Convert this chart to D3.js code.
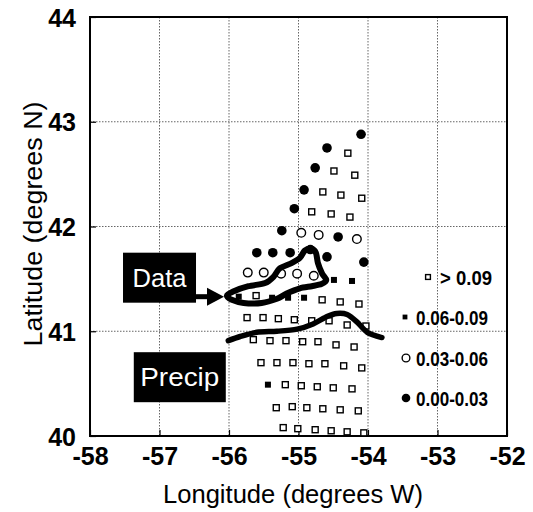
<!DOCTYPE html>
<html>
<head>
<meta charset="utf-8">
<script src="https://cdn.jsdelivr.net/npm/d3@7"></script>
<style>
  body { margin: 0; background: #fff; }
  text { font-family: "Liberation Sans", Arial, Helvetica, sans-serif; }
</style>
</head>
<body>
<div id="chart"></div>
<script>
// station values
var lons = [-54.10, -54.59, -54.29, -54.76, -54.49, -54.19, -54.92, -54.65, -54.39, -54.09,
  -55.06, -54.81, -54.53, -54.26,
  -55.24, -54.96, -54.71, -54.43, -54.16,
  -55.60, -55.37, -55.12, -54.83, -54.59, -54.06,
  -55.73, -55.50, -55.25, -55.02, -54.78, -54.49, -54.23,
  -55.86, -55.61, -55.38, -55.15, -54.92, -54.66, -54.40, -54.13,
  -55.74, -55.51, -55.29, -55.06, -54.81, -54.56, -54.30, -54.03,
  -55.65, -55.41, -55.18, -54.94, -54.72, -54.46, -54.20,
  -55.54, -55.31, -55.08, -54.85, -54.62, -54.35, -54.09,
  -55.44, -55.19, -54.96, -54.73, -54.50, -54.23,
  -55.32, -55.09, -54.88, -54.65, -54.40, -54.14,
  -55.22, -55.01, -54.76, -54.53, -54.30, -54.06];
var lats = [42.88, 42.75, 42.70, 42.56, 42.53, 42.49, 42.35, 42.33, 42.30, 42.27,
  42.17, 42.14, 42.12, 42.09,
  41.96, 41.94, 41.92, 41.90, 41.88,
  41.75, 41.75, 41.75, 41.78, 41.71, 41.66,
  41.56, 41.56, 41.55, 41.55, 41.53, 41.49, 41.48,
  41.33, 41.34, 41.32, 41.32, 41.32, 41.30, 41.28, 41.26,
  41.13, 41.13, 41.12, 41.11, 41.10, 41.10, 41.06, 41.05,
  40.92, 40.91, 40.91, 40.90, 40.90, 40.87, 40.85,
  40.70, 40.70, 40.70, 40.69, 40.69, 40.67, 40.65,
  40.49, 40.49, 40.48, 40.47, 40.46, 40.45,
  40.27, 40.28, 40.27, 40.26, 40.25, 40.24,
  40.08, 40.07, 40.06, 40.05, 40.04, 40.03];
// 0: > 0.09, 1: 0.06-0.09, 2: 0.03-0.06, 3: 0.00-0.03
var classes = [3, 3, 0, 3, 0, 0, 3, 0, 0, 0,
  3, 0, 0, 0,
  3, 2, 2, 3, 2,
  3, 3, 3, 3, 3, 3,
  2, 2, 2, 2, 2, 1, 1,
  1, 0, 1, 1, 1, 0, 0, 0,
  0, 0, 0, 0, 0, 0, 0, 0,
  0, 0, 0, 0, 0, 0, 0,
  0, 0, 0, 0, 0, 0, 0,
  1, 0, 0, 0, 0, 0,
  0, 0, 0, 0, 0, 0,
  0, 0, 0, 0, 0, 0];
var legendLabels = ["> 0.09", "0.06-0.09", "0.03-0.06", "0.00-0.03"];

var xTicks = [-58, -57, -56, -55, -54, -53, -52];
var yTicks = [40, 41, 42, 43, 44];

// outlines drawn over the stations
var dataLon = [-56.03, -55.94, -55.72, -55.48, -55.36, -55.27, -55.10, -54.98, -54.91, -54.82, -54.75,
  -54.72, -54.66, -54.60, -54.67, -54.81, -54.98, -55.17, -55.31, -55.53, -55.79, -55.96];
var dataLat = [41.34, 41.38, 41.43, 41.46, 41.52, 41.60, 41.65, 41.70, 41.77, 41.79, 41.75,
  41.65, 41.55, 41.49, 41.45, 41.43, 41.41, 41.36, 41.31, 41.27, 41.27, 41.30];
var precipLon = [-56.01, -55.84, -55.60, -55.31, -55.02, -54.79, -54.59, -54.45, -54.30, -54.16, -54.01, -53.80];
var precipLat = [40.91, 40.95, 40.99, 41.00, 41.02, 41.07, 41.14, 41.17, 41.16, 41.09, 40.99, 40.94];

var svgWidth = 533;
var svgHeight = 512;
var margin = { top: 17, right: 26, bottom: 76, left: 90 };
var width = svgWidth - margin.left - margin.right;
var height = svgHeight - margin.top - margin.bottom;

var svg = d3.select("#chart").append("svg")
  .attr("width", svgWidth)
  .attr("height", svgHeight);

var chartGroup = svg.append("g")
  .attr("transform", `translate(${margin.left}, ${margin.top})`);

var xScale = d3.scaleLinear().domain([-58, -52]).range([0, width]);
var yScale = d3.scaleLinear().domain([40, 44]).range([height, 0]);

// dotted grid
chartGroup.selectAll(".vgrid")
  .data(xTicks.slice(1, -1))
  .enter().append("line")
  .attr("x1", d => xScale(d)).attr("x2", d => xScale(d))
  .attr("y1", 0).attr("y2", height)
  .attr("stroke", "#666").attr("stroke-width", 1).attr("stroke-dasharray", "1.5,1.5");
chartGroup.selectAll(".hgrid")
  .data(yTicks.slice(1, -1))
  .enter().append("line")
  .attr("x1", 0).attr("x2", width)
  .attr("y1", d => yScale(d)).attr("y2", d => yScale(d))
  .attr("stroke", "#666").attr("stroke-width", 1).attr("stroke-dasharray", "1.5,1.5");

// axes (plain hyphen for the minus, as in the figure)
var xAxis = d3.axisBottom(xScale).tickValues(xTicks).tickSizeInner(-6).tickSizeOuter(0).tickPadding(24)
  .tickFormat(d => String(d));
var yAxis = d3.axisLeft(yScale).tickValues(yTicks).tickSizeInner(-6).tickSizeOuter(0).tickPadding(14)
  .tickFormat(d => String(d));

var gx = chartGroup.append("g")
  .attr("transform", `translate(0, ${height})`)
  .call(xAxis);
var gy = chartGroup.append("g").call(yAxis);

[gx, gy].forEach(g => {
  g.select(".domain").remove();
  g.selectAll(".tick line").attr("stroke", "#000").attr("stroke-width", 1.2);
  g.selectAll(".tick text")
    .attr("fill", "#000")
    .style("font-size", "25px")
    .style("font-weight", "bold");
});
gx.selectAll(".tick text").attr("dy", "0.2em");
gy.selectAll(".tick text").attr("dy", "0.36em");

// frame
chartGroup.append("rect")
  .attr("x", 0).attr("y", 0)
  .attr("width", width).attr("height", height)
  .attr("fill", "none").attr("stroke", "#000").attr("stroke-width", 2);

// stations
var points = chartGroup.selectAll(".pt")
  .data(lons.map((d, i) => ({ lon: d, lat: lats[i], c: classes[i] })))
  .enter().append("g")
  .attr("transform", d => `translate(${xScale(d.lon)}, ${yScale(d.lat)})`);

function drawMarker(sel, c, s) {
  if (c === 0) {
    sel.append("rect").attr("x", -3 * s).attr("y", -3 * s).attr("width", 6 * s).attr("height", 6 * s)
      .attr("fill", "#fff").attr("stroke", "#000").attr("stroke-width", 1.4);
  } else if (c === 1) {
    sel.append("rect").attr("x", -3 * s).attr("y", -3 * s).attr("width", 6 * s).attr("height", 6 * s)
      .attr("fill", "#000");
  } else if (c === 2) {
    sel.append("circle").attr("r", 4.3 * s)
      .attr("fill", "#fff").attr("stroke", "#000").attr("stroke-width", 1.4);
  } else {
    sel.append("circle").attr("r", 4.8 * s).attr("fill", "#000");
  }
}

points.each(function(d) { drawMarker(d3.select(this), d.c, 1); });

// outlines
var line = d3.line().x(d => xScale(d[0])).y(d => yScale(d[1]));

chartGroup.append("path")
  .datum(dataLon.map((d, i) => [d, dataLat[i]]))
  .attr("d", line.curve(d3.curveCardinalClosed.tension(0.2)))
  .attr("fill", "none").attr("stroke", "#000").attr("stroke-width", 6)
  .attr("stroke-linejoin", "round");

chartGroup.append("path")
  .datum(precipLon.map((d, i) => [d, precipLat[i]]))
  .attr("d", line.curve(d3.curveCardinal.tension(0.2)))
  .attr("fill", "none").attr("stroke", "#000").attr("stroke-width", 5.5)
  .attr("stroke-linecap", "round");

// label boxes
function labelBox(lon, lat, w, h, label, tl) {
  var g = chartGroup.append("g")
    .attr("transform", `translate(${xScale(lon)}, ${yScale(lat)})`);
  g.append("rect").attr("x", 0).attr("y", 0).attr("width", w).attr("height", h).attr("fill", "#000");
  g.append("text")
    .attr("x", w / 2).attr("y", h / 2 + 9)
    .attr("text-anchor", "middle")
    .attr("fill", "#fff")
    .style("font-size", "25px")
    .attr("textLength", tl).attr("lengthAdjust", "spacingAndGlyphs")
    .text(label);
  return g;
}

var dataBox = labelBox(-57.525, 41.75, 73, 50, "Data", 54);
labelBox(-57.37, 40.80, 92, 50, "Precip", 79);

// arrow from the Data box
dataBox.append("line")
  .attr("x1", 73).attr("x2", 88).attr("y1", 44).attr("y2", 44)
  .attr("stroke", "#000").attr("stroke-width", 5);
dataBox.append("path")
  .attr("d", "M84,35 L101,44 L84,53 Z")
  .attr("fill", "#000");

// legend
var legendX = [428, 405, 406, 406];
var legendY = [277, 317, 358, 398];
var legendTextX = [440, 416, 416, 416];
var legendTL = [52, 72, 72, 72];
var legend = svg.append("g");
legendLabels.forEach((lab, i) => {
  var m = legend.append("g").attr("transform", `translate(${legendX[i]}, ${legendY[i]})`);
  drawMarker(m, i, i < 2 ? 0.8 : 0.9);
  legend.append("text")
    .attr("x", legendTextX[i]).attr("y", legendY[i] + 7.5)
    .style("font-size", "21px").style("font-weight", "bold")
    .attr("textLength", legendTL[i]).attr("lengthAdjust", "spacingAndGlyphs")
    .text(lab);
});

// axis titles
svg.append("text")
  .attr("x", 293).attr("y", 503)
  .attr("text-anchor", "middle")
  .style("font-size", "25px")
  .attr("textLength", 260).attr("lengthAdjust", "spacingAndGlyphs")
  .text("Longitude (degrees W)");

svg.append("text")
  .attr("transform", "translate(42, 224) rotate(-90)")
  .attr("text-anchor", "middle")
  .style("font-size", "26px")
  .attr("textLength", 245).attr("lengthAdjust", "spacingAndGlyphs")
  .text("Latitude (degrees N)");
</script>
</body>
</html>
